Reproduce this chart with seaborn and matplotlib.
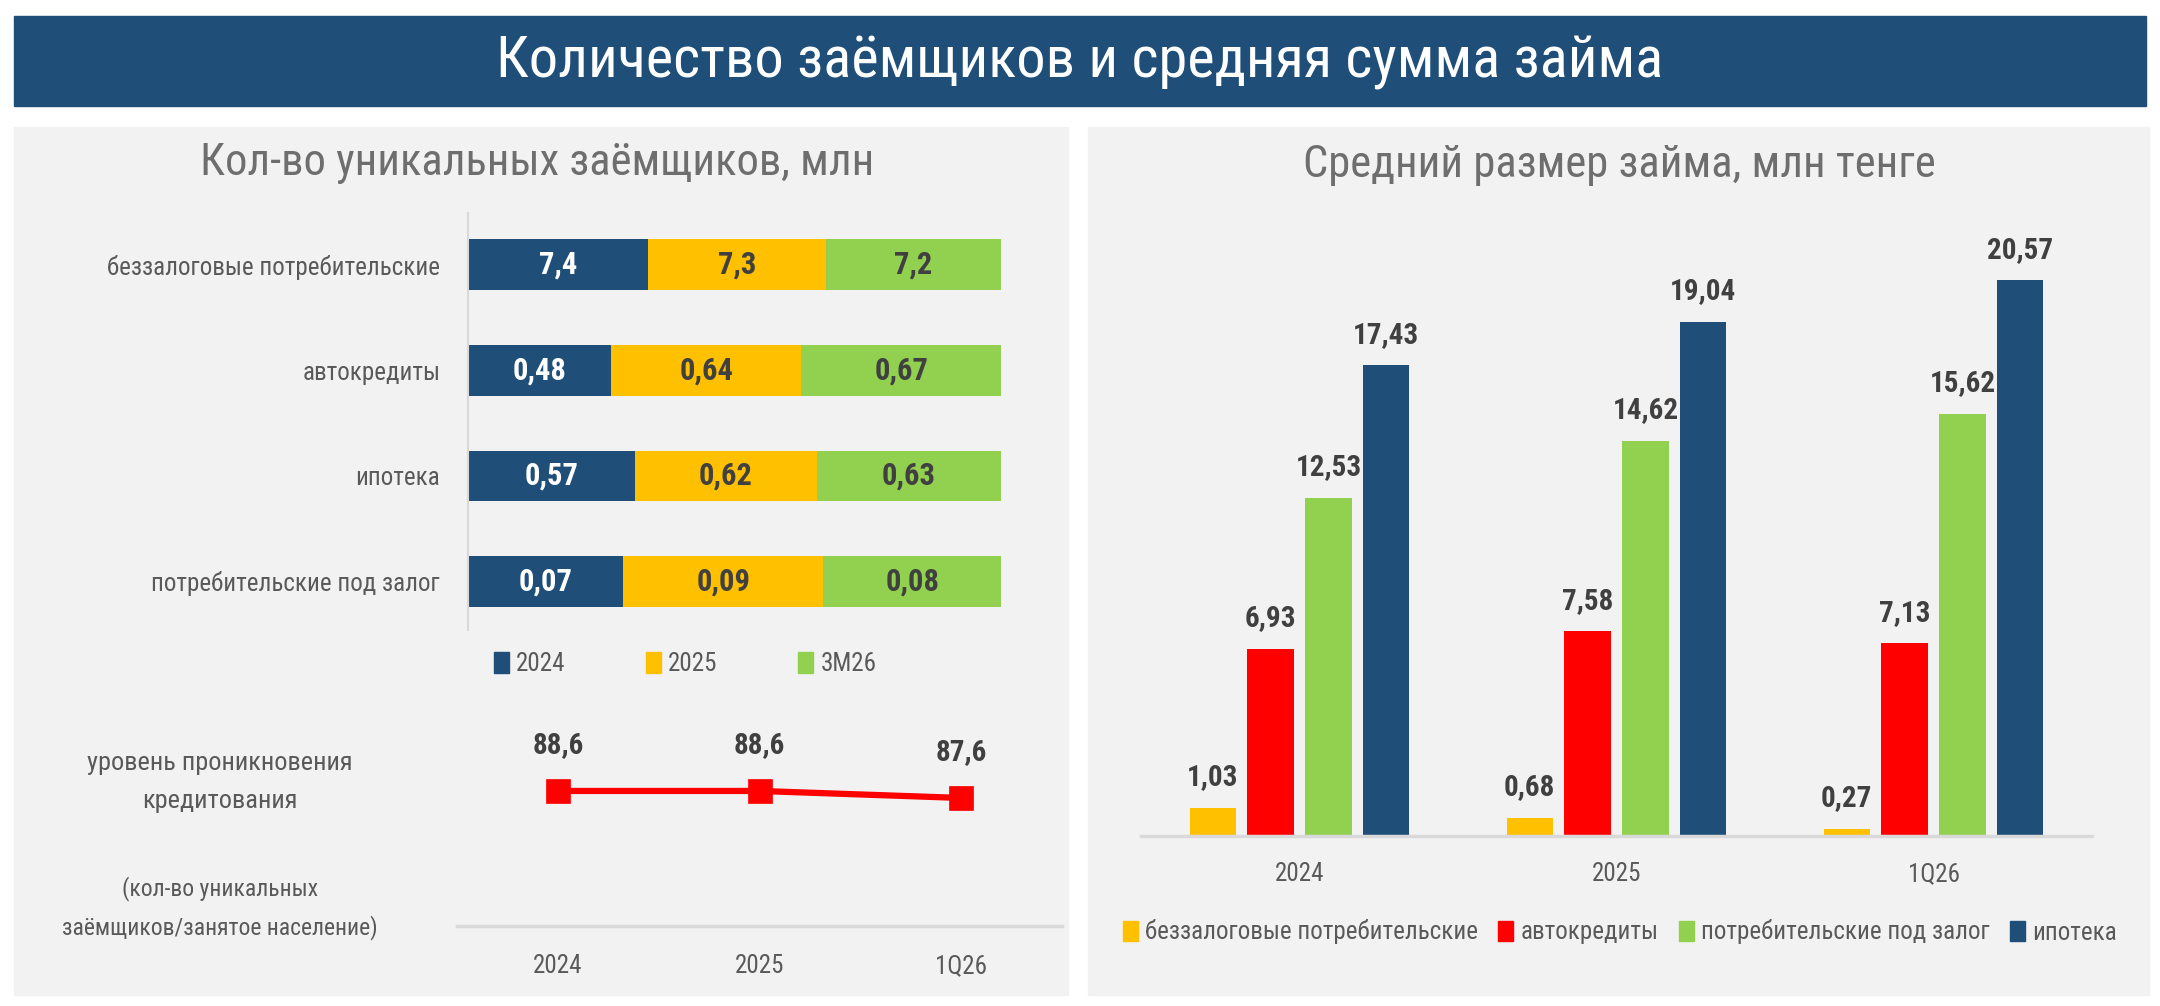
import numpy as np
import pandas as pd
import seaborn as sns
import matplotlib.pyplot as plt
from matplotlib.patches import Rectangle, Patch

# ---------------------------------------------------
# Data
# ---------------------------------------------------

# left: unique borrowers, mln (100% stacked rows)
borrower_types = ["беззалоговые потребительские", "автокредиты", "ипотека", "потребительские под залог"]
borrower_years = ["2024", "2025", "3M26"]
borrowers_2024 = [7.4, 0.48, 0.57, 0.07]
borrowers_2025 = [7.3, 0.64, 0.62, 0.09]
borrowers_3m26 = [7.2, 0.67, 0.63, 0.08]

# left bottom: credit penetration level
penetration_periods = ["2024", "2025", "1Q26"]
penetration_values = [88.6, 88.6, 87.6]

# right: average loan size, mln tenge
loan_periods = ["2024", "2025", "1Q26"]
loan_types = ["беззалоговые потребительские", "автокредиты", "потребительские под залог", "ипотека"]
loan_unsecured = [1.03, 0.68, 0.27]
loan_auto = [6.93, 7.58, 7.13]
loan_secured = [12.53, 14.62, 15.62]
loan_mortgage = [17.43, 19.04, 20.57]

BLUE = "#1F4E79"
YELLOW = "#FFC000"
GREEN = "#92D050"
RED = "#FF0000"
PANEL = "#F2F2F2"
GREY_TXT = "#595959"
TITLE_TXT = "#6E6E6E"
DARK = "#404040"
AXIS = "#D9D9D9"

sns.set_style("white")
plt.rcParams["font.family"] = ["Roboto Condensed", "Roboto", "DejaVu Sans"]

W, H = 2160, 1006


def box(x0, y0, x1, y1):
    # pixel box (top-left origin) -> figure fraction
    return [x0 / W, 1 - y1 / H, (x1 - x0) / W, (y1 - y0) / H]


def fx(x):
    return x / W


def fy(y):
    return 1 - y / H


def fmt(v, spec):
    return format(v, spec).replace(".", ",")


fig = plt.figure(figsize=(W / 100, H / 100), dpi=100)
fig.patch.set_facecolor("white")

# banner and panel backgrounds (behind the axes)
for x0, y0, x1, y1, c in [(14, 16, 2146, 106, BLUE),
                          (14, 127, 1068, 995, PANEL),
                          (1088, 127, 2149, 995, PANEL)]:
    fig.patches.append(Rectangle((fx(x0), fy(y1)), (x1 - x0) / W, (y1 - y0) / H,
                                 transform=fig.transFigure, color=c, zorder=-5))

fig.text(fx(1080), fy(62), "Количество заёмщиков и средняя сумма займа",
         color="white", fontsize=42, ha="center", va="center")
fig.text(fx(537), fy(163), "Кол-во уникальных заёмщиков, млн",
         color=TITLE_TXT, fontsize=32, ha="center", va="center")
fig.text(fx(1619), fy(165), "Средний размер займа, млн тенге",
         color=TITLE_TXT, fontsize=32, ha="center", va="center")

# ---------------------------------------------------
# Left: 100% stacked horizontal bars
# ---------------------------------------------------

ax1 = fig.add_axes(box(468, 213, 1001, 630))
ax1.set_facecolor("none")

stack = np.array([borrowers_2024, borrowers_2025, borrowers_3m26])
shares = stack / stack.sum(axis=0)
cum = np.cumsum(shares, axis=0)
colors = [BLUE, YELLOW, GREEN]

for i in [2, 1, 0]:
    sns.barplot(x=cum[i], y=borrower_types, color=colors[i], orient="h",
                width=0.48, saturation=1, linewidth=0, ax=ax1)

for i in range(3):
    txt_color = "white" if i == 0 else DARK
    for r in range(len(borrower_types)):
        mid = cum[i][r] - shares[i][r] / 2
        ax1.text(mid, r, fmt(stack[i][r], "g"), color=txt_color, fontsize=22,
                 fontweight="bold", ha="center", va="center")

ax1.set_xlim(0, 1)
ax1.set_ylim(3.46, -0.49)
ax1.set_xlabel("")
ax1.set_ylabel("")
ax1.set_xticks([])
ax1.tick_params(axis="y", length=0, pad=20, labelsize=18, labelcolor=GREY_TXT)
for s in ["top", "right", "bottom"]:
    ax1.spines[s].set_visible(False)
ax1.spines["left"].set_color(AXIS)
ax1.spines["left"].set_linewidth(1.5)

handles1 = [Patch(color=c) for c in colors]
fig.legend(handles1, borrower_years, loc="center", bbox_to_anchor=(fx(685), fy(664)),
           ncol=3, frameon=False, fontsize=18, labelcolor=GREY_TXT,
           handlelength=0.6, handleheight=0.9, handletextpad=0.3, columnspacing=3.2)

# ---------------------------------------------------
# Left bottom: penetration line
# ---------------------------------------------------

ax2 = fig.add_axes(box(457, 700, 1062, 926))
ax2.set_facecolor("none")
sns.pointplot(x=penetration_periods, y=penetration_values, color=RED, marker="s",
              markersize=15, linewidth=4.5, ax=ax2)
for i, v in enumerate(penetration_values):
    ax2.annotate(fmt(v, ".1f"), (i, v), xytext=(0, 33), textcoords="offset points",
                 ha="center", va="center", fontsize=21, fontweight="bold", color=DARK)
ax2.set_xlim(-0.5, 2.5)
ax2.set_ylim(69.3, 101.6)
ax2.set_yticks([])
ax2.set_xlabel("")
ax2.set_ylabel("")
ax2.tick_params(axis="x", length=0, pad=20, labelsize=18, labelcolor=GREY_TXT)
for s in ["top", "right", "left"]:
    ax2.spines[s].set_visible(False)
ax2.spines["bottom"].set_color(AXIS)
ax2.spines["bottom"].set_linewidth(2.5)

fig.text(fx(220), fy(782), "уровень проникновения\nкредитования", color=GREY_TXT,
         fontsize=19, ha="center", va="center", linespacing=1.7)
fig.text(fx(220), fy(908), "(кол-во уникальных\nзаёмщиков/занятое население)", color=GREY_TXT,
         fontsize=17, ha="center", va="center", linespacing=1.7)

# ---------------------------------------------------
# Right: grouped bars
# ---------------------------------------------------

loans = pd.DataFrame({
    "period": loan_periods * 4,
    "type": [t for t in loan_types for _ in loan_periods],
    "value": loan_unsecured + loan_auto + loan_secured + loan_mortgage,
})
loan_colors = [YELLOW, RED, GREEN, BLUE]

ax3 = fig.add_axes(box(1141, 200, 2092, 836))
ax3.set_facecolor("none")
sns.barplot(data=loans, x="period", y="value", hue="type", hue_order=loan_types,
            palette=loan_colors, saturation=1, width=0.73, gap=0.2, linewidth=0,
            errorbar=None, legend=False, ax=ax3)
for cont in ax3.containers:
    ax3.bar_label(cont, labels=[fmt(b.get_height(), ".2f") for b in cont], padding=12,
                  fontsize=21, fontweight="bold", color=DARK)
ax3.set_xlim(-0.5, 2.5)
ax3.set_ylim(0, 23.55)
ax3.set_yticks([])
ax3.set_xlabel("")
ax3.set_ylabel("")
ax3.tick_params(axis="x", length=0, pad=19, labelsize=18, labelcolor=GREY_TXT)
for s in ["top", "right", "left"]:
    ax3.spines[s].set_visible(False)
ax3.spines["bottom"].set_color(AXIS)
ax3.spines["bottom"].set_linewidth(2.5)

handles3 = [Patch(color=c) for c in loan_colors]
fig.legend(handles3, loan_types, loc="center", bbox_to_anchor=(fx(1620), fy(932)),
           ncol=4, frameon=False, fontsize=18, labelcolor=GREY_TXT,
           handlelength=0.6, handleheight=0.9, handletextpad=0.3, columnspacing=0.8)

fig.savefig("out.png", dpi=100)
